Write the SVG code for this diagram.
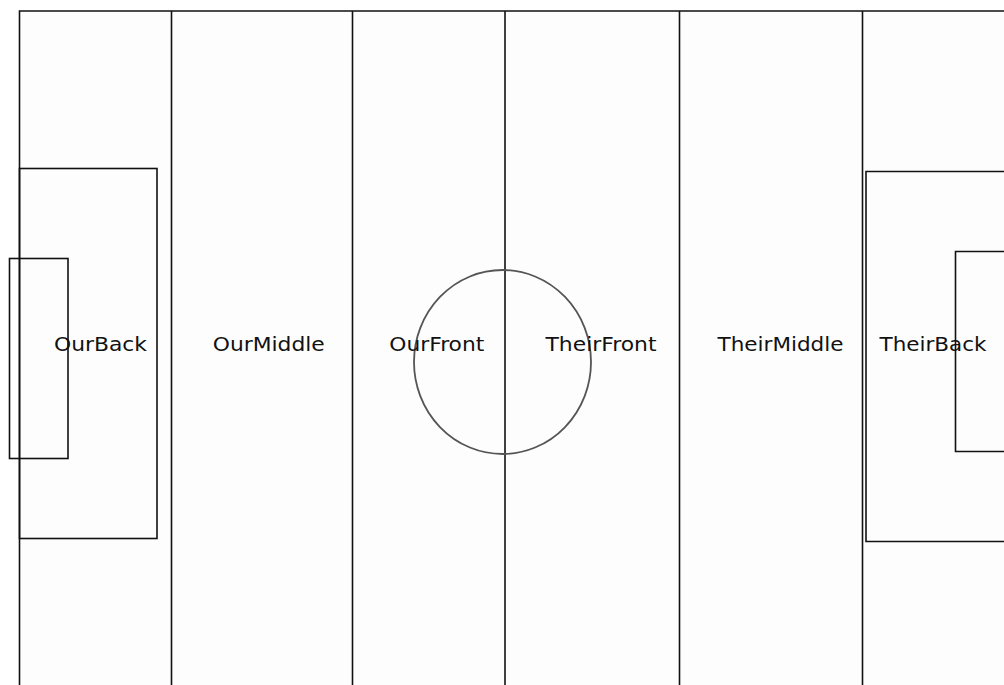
<svg xmlns="http://www.w3.org/2000/svg" width="1004" height="685" viewBox="0 0 1004 685">
  <style>
    .ln { fill: none; stroke: #111; stroke-width: 1.6; }
    .circ { fill: none; stroke: #555; stroke-width: 1.8; }
    .lbl { font-family: "DejaVu Sans", sans-serif; font-size: 20px; fill: #111; text-anchor: middle; }
  </style>
  <rect x="0" y="0" width="1004" height="685" fill="#ffffff"/>
  <rect x="19.5" y="11" width="990" height="680" fill="#fdfdfd"/>
  <g id="pitch">
    <path class="ln" d="M19.5,685 V11 H1004"/>
    <line class="ln" x1="171.5" y1="11" x2="171.5" y2="685"/>
    <line class="ln" x1="352.5" y1="11" x2="352.5" y2="685"/>
    <line class="ln" x1="505" y1="11" x2="505" y2="685"/>
    <line class="ln" x1="679.5" y1="11" x2="679.5" y2="685"/>
    <line class="ln" x1="862.5" y1="11" x2="862.5" y2="685"/>
    <rect class="ln" x="19.5" y="168.5" width="137.5" height="370"/>
    <rect class="ln" x="9.5" y="258.5" width="58.5" height="200"/>
    <path class="ln" d="M1005,171.5 H866 V541.5 H1005"/>
    <path class="ln" d="M1005,251.5 H955.5 V451.5 H1005"/>
    <ellipse class="circ" cx="502.5" cy="362" rx="88.5" ry="92"/>
  </g>
  <g id="OurBack"><text class="lbl" x="100.5" y="350.5" textLength="93" lengthAdjust="spacingAndGlyphs">OurBack</text></g>
  <g id="OurMiddle"><text class="lbl" x="268.8" y="350.5" textLength="112" lengthAdjust="spacingAndGlyphs">OurMiddle</text></g>
  <g id="OurFront"><text class="lbl" x="436.8" y="350.5" textLength="95" lengthAdjust="spacingAndGlyphs">OurFront</text></g>
  <g id="TheirFront"><text class="lbl" x="601" y="350.5" textLength="111" lengthAdjust="spacingAndGlyphs">TheirFront</text></g>
  <g id="TheirMiddle"><text class="lbl" x="780.5" y="350.5" textLength="126" lengthAdjust="spacingAndGlyphs">TheirMiddle</text></g>
  <g id="TheirBack"><text class="lbl" x="933" y="350.5" textLength="107" lengthAdjust="spacingAndGlyphs">TheirBack</text></g>
</svg>
